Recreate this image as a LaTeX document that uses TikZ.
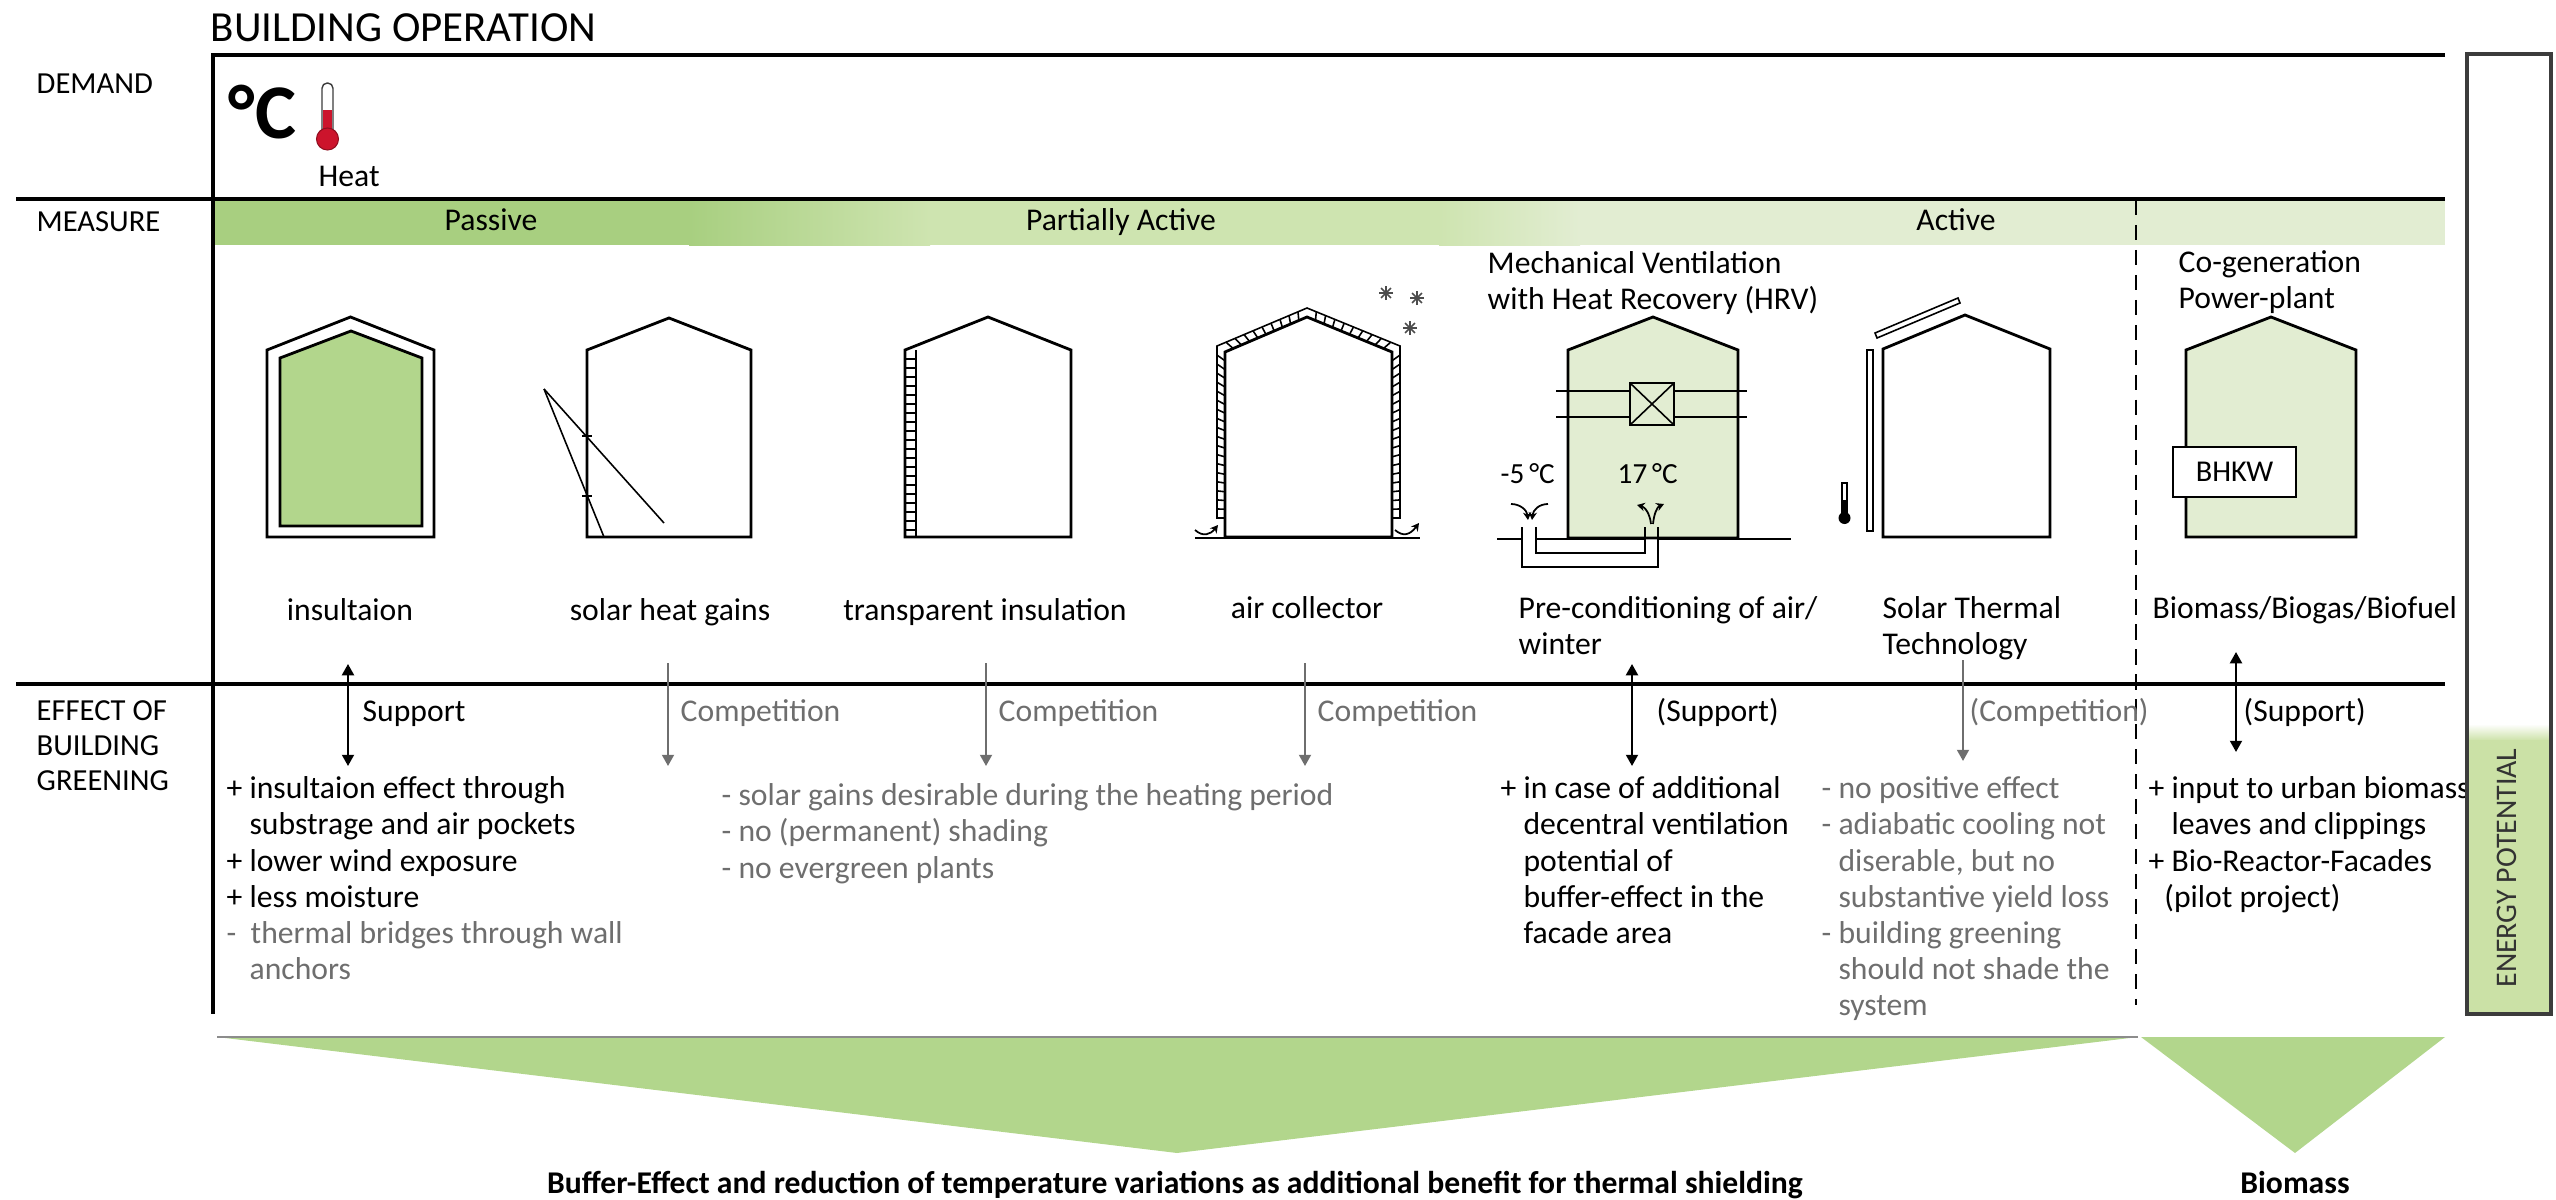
\documentclass[tikz,border=0pt]{standalone}
\usepackage{fontspec}
\setmainfont{Carlito}
\usetikzlibrary{calc, positioning, arrows.meta}
\definecolor{LeafGreen}{RGB}{168, 207, 128}
\definecolor{SoftGreen}{RGB}{178, 214, 140}
\definecolor{PaleGreen}{RGB}{206, 228, 176}
\definecolor{MistGreen}{RGB}{226, 237, 210}
\definecolor{SageGreen}{RGB}{203, 225, 166}
\definecolor{NoteGray}{RGB}{110, 110, 110}
\definecolor{FrameGray}{RGB}{60, 60, 60}
\definecolor{ThermoRed}{RGB}{204, 20, 44}
\newcommand\bodysize{\fontsize{9}{10.25}\selectfont}

\begin{document}
\begin{tikzpicture}[
    x=0.01cm, y=-0.01cm,
    frame/.style={line width=1pt, black},
    wall/.style={draw=black, line width=0.8pt},
    fine/.style={line width=0.45pt},
    rowhead/.style={font=\fontsize{8.7}{10}\selectfont, inner sep=0pt, anchor=west},
    tag/.style={font=\bodysize, inner sep=0pt, anchor=base},
    effect/.style={font=\bodysize, inner sep=0pt, anchor=base west},
    note/.style={font=\bodysize, inner sep=0pt, anchor=north west, align=left},
    support/.style={{Triangle[length=3.2pt, width=3.4pt]}-{Triangle[length=3.2pt, width=3.4pt]}, line width=0.6pt},
    rival/.style={-{Triangle[length=3.2pt, width=3.4pt]}, line width=0.6pt, draw=NoteGray},
    airflow/.style={-{Stealth[length=2.2pt, width=2.4pt]}, line width=0.5pt}
  ]
  \useasboundingbox (0,0) rectangle (2556,1200);

  % Measure band
  \fill[LeafGreen] (213,199) rectangle (690,245);
  \shade[left color=LeafGreen, right color=PaleGreen] (689,199) rectangle (930,245);
  \fill[PaleGreen] (929,199) rectangle (1440,245);
  \shade[left color=PaleGreen, right color=MistGreen] (1439,199) rectangle (1580,245);
  \fill[MistGreen] (1579,199) rectangle (2445,245);
  \node[tag] (passive) at (491,230) {Passive};
  \node[tag] (partly) at (1121,230) {Partially Active};
  \node[tag] (active) at (1956,230) {Active};

  % Grid
  \draw[frame] (2445,55) -- (213,55) -- (213,1014);
  \draw[frame] (16,199) -- (2445,199);
  \draw[frame] (16,684) -- (2445,684);
  \draw[dashed, dash pattern=on 4.3pt off 2.8pt, line width=0.6pt] (2136,200) -- (2136,1005);

  % Title and row heads
  \node[anchor=west, inner sep=0pt, font=\fontsize{12.2}{14}\selectfont] (title) at (210,28) {BUILDING OPERATION};
  \node[rowhead] (demand) at (36,84) {DEMAND};
  \node[rowhead] (measure) at (36,222) {MEASURE};
  \node[rowhead, anchor=north west, align=left] (greening) at (36,700) {EFFECT OF\\BUILDING\\GREENING};

  % Heat demand
  \node[anchor=west, inner sep=0pt, font=\fontsize{22}{24}\bfseries\selectfont] (degc) at (228,112) {°C};
  \draw[FrameGray, line width=0.4pt, fill=white, rounded corners=1.5pt] (322,83) rectangle (333,138);
  \fill[ThermoRed] (323,110) rectangle (332,138);
  \draw[ThermoRed!70!black, line width=0.3pt, fill=ThermoRed] (327.5,139) circle[radius=11];
  \node[anchor=west, inner sep=0pt, font=\bodysize] (heat) at (318,176) {Heat};

  % Insulation
  \draw[wall, fill=white] (267,537) -- (267,350) -- (350.5,317) -- (434,350) -- (434,537) -- cycle;
  \draw[wall, fill=SoftGreen] (280,526) -- (280,358) -- (351,331) -- (422,358) -- (422,526) -- cycle;
  \node[tag] (insul) at (350,620) {insultaion};

  % Solar heat gains
  \draw[wall] (587,537) -- (587,350) -- (669,318) -- (751,350) -- (751,537) -- cycle;
  \draw[fine] (544,389) -- (664,523);
  \draw[fine] (544,389) -- (604,537);
  \draw[fine] (582,436) -- (592,436);
  \draw[fine] (582,496) -- (592,496);
  \node[tag] (solar) at (670,620) {solar heat gains};

  % Transparent insulation
  \draw[wall] (905,537) -- (905,350) -- (988,317) -- (1071,350) -- (1071,537) -- cycle;
  \draw[fine] (916,350) -- (916,537);
  \foreach \y in {359,368,...,530}
    \draw[fine] (905,\y) -- (916,\y);
  \node[tag] (transp) at (985,620) {transparent insulation};

  % Air collector
  \coordinate (acA) at (1225,518);
  \coordinate (acB) at (1225,352);
  \coordinate (acC) at (1307,317);
  \coordinate (acD) at (1392,352);
  \coordinate (acE) at (1392,518);
  \coordinate (acF) at (1217,518);
  \coordinate (acG) at (1217,346);
  \coordinate (acH) at (1307,308);
  \coordinate (acI) at (1400,346);
  \coordinate (acJ) at (1400,518);
  \draw[wall] (1225,537) -- (acB) -- (acC) -- (acD) -- (1392,537) -- cycle;
  \draw[fine] (acA) -- (acF) -- (acG) -- (acH) -- (acI) -- (acJ) -- (acE);
  \foreach \i in {1,...,18} {
    \draw[fine] ($(acA)!{\i/19}!(acB)$) -- ($(acF)!{\i/19}!(acG)$);
    \draw[fine] ($(acE)!{\i/19}!(acD)$) -- ($(acJ)!{\i/19}!(acI)$);
  }
  \foreach \i in {1,...,9} {
    \draw[fine] ($(acB)!{\i/10}!(acC)$) -- ($(acG)!{\i/10}!(acH)$);
    \draw[fine] ($(acD)!{\i/10}!(acC)$) -- ($(acI)!{\i/10}!(acH)$);
  }
  \draw[wall] (1195,538) -- (1420,538);
  \draw[airflow] (1195,530) .. controls (1203,537) and (1210,535) .. (1218,525);
  \draw[airflow] (1395,530) .. controls (1403,537) and (1410,535) .. (1419,523);
  \foreach \sx/\sy in {1386/293, 1417/298, 1410/328}
    \foreach \a in {0,45,90,135}
      \draw[fine, black!70] (\sx,\sy) +(\a:7) -- +(\a+180:7);
  \node[tag] (aircol) at (1307,618) {air collector};

  % Mechanical ventilation with heat recovery
  \node[note] (hrv) at (1487,248) {\strut Mechanical Ventilation\\with Heat Recovery (HRV)};
  \draw[wall, fill=MistGreen] (1568,538) -- (1568,350) -- (1653,317) -- (1738,350) -- (1738,538) -- cycle;
  \draw[fine] (1556,391) -- (1747,391);
  \draw[fine] (1556,417) -- (1747,417);
  \draw[fine, fill=MistGreen] (1630,383) rectangle (1674,425);
  \draw[fine] (1630,383) -- (1674,425) (1630,425) -- (1674,383);
  \node[effect, font=\fontsize{8.3}{10}\selectfont] (cold) at (1500,483) {-5\,°C};
  \node[effect, font=\fontsize{8.3}{10}\selectfont] (warm) at (1617,483) {17\,°C};
  \draw[wall] (1497,539) -- (1522,539);
  \draw[wall] (1536,539) -- (1645,539);
  \draw[wall] (1658,539) -- (1791,539);
  \draw[fine] (1522,527) -- (1522,567) -- (1658,567) -- (1658,527);
  \draw[fine] (1536,527) -- (1536,553) -- (1645,553) -- (1645,527);
  \draw[airflow] (1511,504) .. controls (1520,504) and (1527,510) .. (1528,520);
  \draw[airflow] (1548,504) .. controls (1539,504) and (1533,510) .. (1532,520);
  \draw[airflow] (1651,524) .. controls (1650,514) and (1645,507) .. (1637,505);
  \draw[airflow] (1653,524) .. controls (1654,514) and (1657,507) .. (1664,504);
  \node[note] (precond) at (1518,593) {\strut Pre-conditioning of air/\\winter};

  % Solar thermal technology
  \draw[wall] (1883,537) -- (1883,349) -- (1965,315) -- (2050,349) -- (2050,537) -- cycle;
  \draw[fine] (1867,350) rectangle (1873,531);
  \draw[fine] (1877,338) -- (1960,303) -- (1958,298) -- (1875,333) -- cycle;
  \draw[fine, fill=white] (1842,483) rectangle (1847,512);
  \fill (1842,500) rectangle (1847,514);
  \fill (1844.5,518) circle[radius=6];
  \node[note] (soltherm) at (1882,593) {\strut Solar Thermal\\Technology};

  % Co-generation
  \node[note] (cogen) at (2178,247) {\strut Co-generation\\Power-plant};
  \draw[wall, fill=MistGreen] (2186,537) -- (2186,350) -- (2271,317) -- (2356,350) -- (2356,537) -- cycle;
  \node[draw, line width=0.6pt, fill=white, minimum width=1.23cm, minimum height=0.5cm, inner sep=0pt,
        font=\fontsize{8.6}{10}\selectfont] (bhkw) at (2234.5,472) {BHKW};
  \node[effect] (biofuel) at (2152,618) {Biomass/Biogas/Biofuel};

  % Effects of building greening
  \coordinate (s1a) at (348,664);  \coordinate (s1b) at (348,766);
  \coordinate (c1a) at (668,663);  \coordinate (c1b) at (668,766);
  \coordinate (c2a) at (986,663);  \coordinate (c2b) at (986,766);
  \coordinate (c3a) at (1305,663); \coordinate (c3b) at (1305,766);
  \coordinate (s2a) at (1632,664); \coordinate (s2b) at (1632,766);
  \coordinate (c4a) at (1963,660); \coordinate (c4b) at (1963,761);
  \coordinate (s3a) at (2236,652); \coordinate (s3b) at (2236,752);
  \draw[support] (s1a) -- (s1b);
  \draw[rival] (c1a) -- (c1b);
  \draw[rival] (c2a) -- (c2b);
  \draw[rival] (c3a) -- (c3b);
  \draw[support] (s2a) -- (s2b);
  \draw[rival] (c4a) -- (c4b);
  \draw[support] (s3a) -- (s3b);
  \node[effect] (sup1) at (362,721) {Support};
  \node[effect, text=NoteGray] (com1) at (680,721) {Competition};
  \node[effect, text=NoteGray] (com2) at (998,721) {Competition};
  \node[effect, text=NoteGray] (com3) at (1317,721) {Competition};
  \node[effect] (sup2) at (1656,721) {(Support)};
  \node[effect, text=NoteGray] (com4) at (1969,721) {(Competition)};
  \node[effect] (sup3) at (2243,721) {(Support)};

  \node[note] (fx1) at (226,773) {\strut + insultaion effect through\\\phantom{+ }substrage and air pockets\\+ lower wind exposure\\+ less moisture\\\textcolor{NoteGray}{-\ \ thermal bridges through wall}\\\textcolor{NoteGray}{\phantom{+ }anchors}};
  \node[note, text=NoteGray] (fx2) at (721,780) {\strut - solar gains desirable during the heating period\\- no (permanent) shading\\- no evergreen plants};
  \node[note] (fx3) at (1500,773) {\strut + in case of additional\\\phantom{+ }decentral ventilation\\\phantom{+ }potential of\\\phantom{+ }buffer-effect in the\\\phantom{+ }facade area};
  \node[note, text=NoteGray] (fx4) at (1821,773) {\strut - no positive effect\\- adiabatic cooling not\\\phantom{- }diserable, but no\\\phantom{- }substantive yield loss\\- building greening\\\phantom{- }should not shade the\\\phantom{- }system};
  \node[note] (fx5) at (2148,773) {\strut + input to urban biomass:\\\phantom{+ }leaves and clippings\\+ Bio-Reactor-Facades\\\phantom{+}(pilot project)};

  % Energy potential bar
  \fill[white] (2467,54) rectangle (2551,1014);
  \shade[top color=white, bottom color=SageGreen] (2467,724) rectangle (2551,741);
  \fill[SageGreen] (2467,740) rectangle (2551,1014);
  \draw[line width=1.1pt, FrameGray] (2467,54) rectangle (2551,1014);
  \node[rotate=90, inner sep=0pt, font=\fontsize{8.5}{10}\selectfont, text=black!80] (energy) at (2507,868) {ENERGY POTENTIAL};

  % Benefits
  \fill[SoftGreen] (217,1037) -- (2138,1037) -- (1177,1153) -- cycle;
  \draw[fine, black!45] (217,1037) -- (2138,1037);
  \fill[SoftGreen] (2141,1037) -- (2445,1037) -- (2295,1153) -- cycle;
  \node[anchor=base, inner sep=0pt, font=\bodysize\bfseries] (buffer) at (1175,1193) {Buffer-Effect and reduction of temperature variations as additional benefit for thermal shielding};
  \node[anchor=base, inner sep=0pt, font=\bodysize\bfseries] (biomass) at (2295,1193) {Biomass};
\end{tikzpicture}
\end{document}
